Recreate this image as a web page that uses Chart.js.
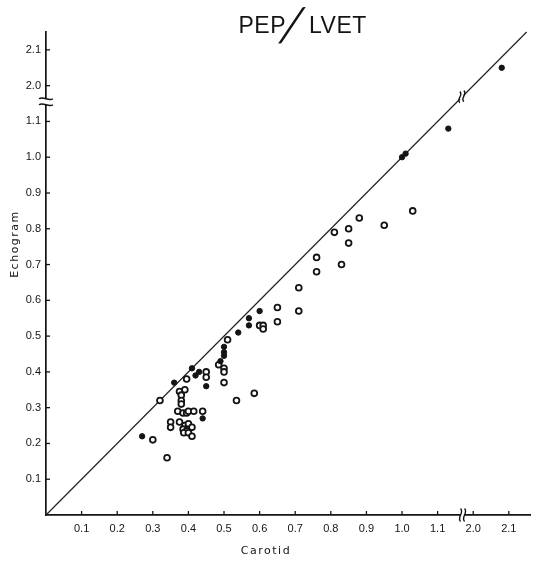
<!DOCTYPE html>
<html>
<head>
<meta charset="utf-8">
<script src="https://cdn.jsdelivr.net/npm/chart.js@4.4.1/dist/chart.umd.min.js"></script>
<style>
  html, body { margin: 0; padding: 0; background: #fff; }
  #wrap { width: 536px; height: 562px; }
</style>
</head>
<body>
<div id="wrap"><canvas id="pepChart" width="536" height="562"></canvas></div>
<script>
// Carotid vs Echogram, PEP/LVET ratio
const filledCarotid = [0.27, 0.36, 0.41, 0.42, 0.43, 0.45, 0.44, 0.50, 0.50, 0.50, 0.49, 0.54, 0.57, 0.57, 0.60, 1.00, 1.01, 1.13, 2.08];
const filledEcho    = [0.22, 0.37, 0.41, 0.39, 0.40, 0.36, 0.27, 0.47, 0.455, 0.445, 0.43, 0.51, 0.55, 0.53, 0.57, 1.00, 1.01, 1.08, 2.05];

const openCarotid = [0.30, 0.34, 0.32, 0.35, 0.35, 0.375, 0.39, 0.38, 0.38, 0.38, 0.37, 0.385, 0.395, 0.40, 0.415, 0.44,
  0.375, 0.39, 0.40, 0.41, 0.385, 0.395, 0.387, 0.40, 0.41, 0.395, 0.45, 0.45, 0.485, 0.50, 0.50, 0.50, 0.51,
  0.535, 0.585, 0.60, 0.61, 0.61, 0.65, 0.65, 0.71, 0.71, 0.76, 0.76, 0.81, 0.83, 0.85, 0.85, 0.88, 0.95, 1.03];
const openEcho = [0.21, 0.16, 0.32, 0.26, 0.245, 0.345, 0.35, 0.335, 0.32, 0.31, 0.29, 0.285, 0.285, 0.29, 0.29, 0.29,
  0.26, 0.25, 0.255, 0.245, 0.24, 0.235, 0.23, 0.23, 0.22, 0.38, 0.40, 0.385, 0.42, 0.41, 0.40, 0.37, 0.49,
  0.32, 0.34, 0.53, 0.53, 0.52, 0.58, 0.54, 0.635, 0.57, 0.72, 0.68, 0.79, 0.70, 0.80, 0.76, 0.83, 0.81, 0.85];

const lineOfIdentity = [0, 2.15];
const tickValues = [0.1, 0.2, 0.3, 0.4, 0.5, 0.6, 0.7, 0.8, 0.9, 1.0, 1.1, 2.0, 2.1];

// axis is broken between 1.1 and 2.0
const BREAK_SHIFT = 0.8;
function toAxis(v) { return v >= 1.5 ? v - BREAK_SHIFT : v; }
function fromAxis(v) { return v > 1.15 ? v + BREAK_SHIFT : v; }

function pairs(xs, ys) {
    return xs.map((x, i) => ({ x: toAxis(x), y: toAxis(ys[i]) }));
}

const ink = '#141414';

function wave(ctx, x, y, w, h, vertical) {
    // small S-shaped break mark
    ctx.beginPath();
    if (vertical) {
        ctx.moveTo(x, y - h / 2);
        ctx.bezierCurveTo(x + w, y - h / 6, x - w, y + h / 6, x, y + h / 2);
    } else {
        ctx.moveTo(x - w / 2, y);
        ctx.bezierCurveTo(x - w / 6, y - h, x + w / 6, y + h, x + w / 2, y);
    }
    ctx.stroke();
}

const decorations = {
    id: 'decorations',
    afterDraw(chart) {
        const ctx = chart.ctx;
        const xs = chart.scales.x;
        const ys = chart.scales.y;
        const area = chart.chartArea;
        ctx.save();
        ctx.strokeStyle = ink;
        ctx.fillStyle = ink;
        ctx.lineWidth = 1.3;

        // inward tick marks
        xs.ticks.forEach(t => {
            const px = xs.getPixelForValue(t.value);
            ctx.beginPath(); ctx.moveTo(px, area.bottom); ctx.lineTo(px, area.bottom - 4); ctx.stroke();
        });
        ys.ticks.forEach(t => {
            const py = ys.getPixelForValue(t.value);
            ctx.beginPath(); ctx.moveTo(area.left, py); ctx.lineTo(area.left + 4, py); ctx.stroke();
        });

        // x axis break
        const bx = xs.getPixelForValue(1.17);
        ctx.fillStyle = '#fff';
        ctx.fillRect(bx - 2, area.bottom - 2, 4, 4);
        ctx.lineWidth = 1.4;
        wave(ctx, bx - 2, area.bottom, 4, 13, true);
        wave(ctx, bx + 2, area.bottom, 4, 13, true);

        // y axis break
        const by = ys.getPixelForValue(1.155);
        ctx.fillStyle = '#fff';
        ctx.fillRect(area.left - 2, by - 3, 4, 6);
        wave(ctx, area.left, by - 3, 14, 3, false);
        wave(ctx, area.left, by + 3, 14, 3, false);

        // break on the identity line
        const dx = xs.getPixelForValue(1.168);
        const dy = ys.getPixelForValue(1.168);
        ctx.save();
        ctx.translate(dx, dy);
        ctx.rotate(-Math.PI / 4);
        ctx.fillStyle = '#fff';
        ctx.fillRect(-2.5, -2, 5, 4);
        ctx.rotate(Math.PI / 4);
        wave(ctx, -2, 0, 4, 11, true);
        wave(ctx, 2, -1, 4, 11, true);
        ctx.restore();

        // title
        ctx.fillStyle = ink;
        ctx.textBaseline = 'alphabetic';
        ctx.font = '23px "Liberation Sans", Arial, sans-serif';
        ctx.letterSpacing = '0.5px';
        ctx.textAlign = 'right';
        ctx.fillText('PEP', 286, 33);
        ctx.textAlign = 'left';
        ctx.fillText('LVET', 309, 33);
        ctx.save();
        ctx.translate(292, 41);
        ctx.scale(1.6, 1);
        ctx.letterSpacing = '0px';
        ctx.font = '300 48px Lato, "Liberation Sans", sans-serif';
        ctx.textAlign = 'center';
        ctx.fillText('/', 0, 0);
        ctx.restore();

        // axis titles
        ctx.font = '11px "DejaVu Sans", sans-serif';
        ctx.letterSpacing = '1.5px';
        ctx.textAlign = 'center';
        ctx.textBaseline = 'middle';
        ctx.fillText('Carotid', 266, 551);
        ctx.save();
        ctx.translate(15, 244);
        ctx.rotate(-Math.PI / 2);
        ctx.fillText('Echogram', 0, 0);
        ctx.restore();

        ctx.restore();
    }
};

function renderPepChart() {
    const canvas = document.getElementById('pepChart');
    if (!canvas) return;
    const axisTicks = {
        font: { family: '"Liberation Sans", Arial, sans-serif', size: 11 },
        color: ink,
        autoSkip: false,
        maxRotation: 0,
        callback: v => fromAxis(v).toFixed(1)
    };
    new Chart(canvas.getContext('2d'), {
        type: 'scatter',
        data: {
            datasets: [{
                label: 'filled',
                data: pairs(filledCarotid, filledEcho),
                backgroundColor: ink,
                borderColor: ink,
                borderWidth: 1,
                pointRadius: 2.7,
                order: 1
            }, {
                label: 'open',
                data: pairs(openCarotid, openEcho),
                backgroundColor: '#fff',
                borderColor: ink,
                borderWidth: 1.8,
                pointRadius: 2.9,
                order: 2
            }, {
                label: 'identity',
                data: pairs(lineOfIdentity, lineOfIdentity),
                showLine: true,
                borderColor: '#222',
                borderWidth: 1.2,
                pointRadius: 0,
                clip: false,
                order: 3
            }]
        },
        options: {
            responsive: false,
            animation: false,
            devicePixelRatio: 1,
            layout: { padding: { top: 32, right: 4, left: 0, bottom: 0 } },
            plugins: {
                legend: { display: false },
                tooltip: { enabled: false }
            },
            scales: {
                x: {
                    type: 'linear',
                    min: 0,
                    max: 1.36,
                    afterBuildTicks: s => { s.ticks = tickValues.map(v => ({ value: toAxis(v) })); },
                    afterFit: s => { s.height = 47; },
                    ticks: Object.assign({ padding: 7 }, axisTicks),
                    grid: { display: false, drawTicks: false },
                    border: { display: true, color: ink, width: 1.7 }
                },
                y: {
                    type: 'linear',
                    min: 0,
                    max: 1.35,
                    afterBuildTicks: s => { s.ticks = tickValues.map(v => ({ value: toAxis(v) })); },
                    afterFit: s => { s.width = 46; },
                    ticks: Object.assign({ padding: 5 }, axisTicks),
                    grid: { display: false, drawTicks: false },
                    border: { display: true, color: ink, width: 1.7 }
                }
            }
        },
        plugins: [decorations]
    });
}

renderPepChart();
</script>
</body>
</html>
